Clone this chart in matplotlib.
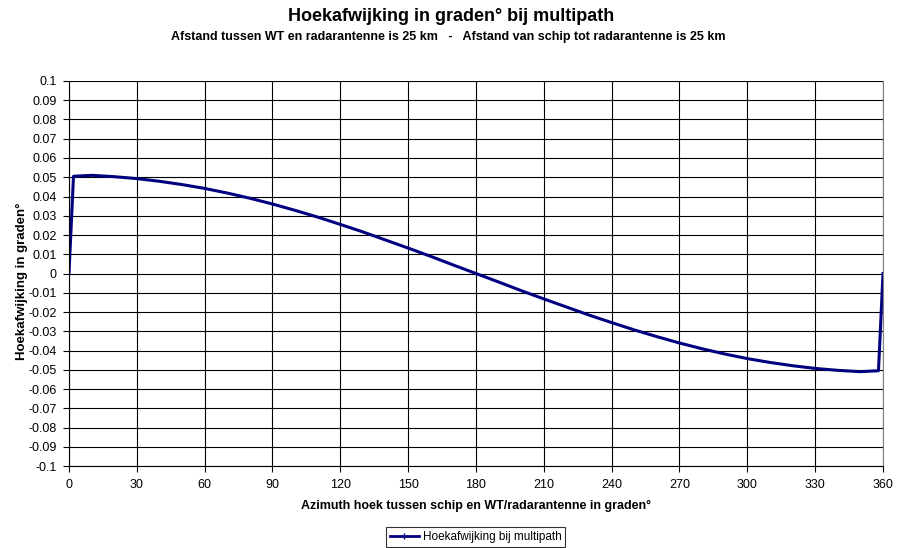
import matplotlib
matplotlib.use("Agg")
import matplotlib.pyplot as plt
from matplotlib.lines import Line2D

plt.rcParams['font.family'] = ['Liberation Sans', 'DejaVu Sans']

# azimuth (degrees) and angular deviation (degrees)
azimuth = [0, 2, 10, 20, 30, 40, 50, 60, 70, 80, 90, 100, 110, 120, 130, 140, 150, 160, 170, 180,
           190, 200, 210, 220, 230, 240, 250, 260, 270, 280, 290, 300, 310, 320, 330, 340, 350, 358, 360]
afwijking = [0, 0.0505, 0.0510, 0.0503, 0.0493, 0.0479, 0.0462, 0.0442, 0.0418, 0.0391, 0.0361,
             0.0328, 0.0293, 0.0255, 0.0216, 0.0174, 0.0132, 0.0089, 0.0044, 0.0,
             -0.0044, -0.0089, -0.0132, -0.0174, -0.0216, -0.0255, -0.0293, -0.0328, -0.0361,
             -0.0391, -0.0418, -0.0442, -0.0462, -0.0479, -0.0493, -0.0503, -0.0510, -0.0505, 0]

x_ticks = list(range(0, 361, 30))
y_ticks = [round(-0.1 + 0.01 * i, 2) for i in range(21)]
y_labels = ['0' if v == 0 else ('%g' % v) for v in y_ticks]

fig = plt.figure(figsize=(8.97, 5.48), dpi=100)
ax = fig.add_axes([0.0769, 0.1496, 0.9075, 0.7026])

navy = '#000080'
ax.plot(azimuth, afwijking, color=navy, lw=2.2)

ax.set_xlim(0, 360)
ax.set_ylim(-0.1, 0.1)
ax.set_xticks(x_ticks)
ax.set_yticks(y_ticks)
ax.set_yticklabels(y_labels)
ax.tick_params(labelsize=9, length=4, width=0.8, direction='out', color='black')
ax.tick_params(axis='x', pad=5)
ax.tick_params(axis='y', pad=5)
ax.grid(True, color='black', lw=0.8)
ax.set_axisbelow(True)
for s in ax.spines.values():
    s.set_color('black')
    s.set_linewidth(0.8)
ax.spines['top'].set_visible(False)
ax.spines['right'].set_color('#808080')

ax.set_xlabel('Azimuth hoek tussen schip en WT/radarantenne in graden°', fontsize=9,
              fontweight='bold', labelpad=7)
ax.set_ylabel('Hoekafwijking in graden°', fontsize=9.5, fontweight='bold')
ax.yaxis.set_label_coords(-0.05, 0.48)

fig.text(0.503, 0.969, 'Hoekafwijking in graden° bij multipath', ha='center', va='center',
         fontsize=13, fontweight='bold')
fig.text(0.5, 0.932, 'Afstand tussen WT en radarantenne is 25 km   -   Afstand van schip tot radarantenne is 25 km',
         ha='center', va='center', fontsize=9, fontweight='bold')

handle = Line2D([], [], color=navy, lw=2, marker='|', markersize=4)
leg = fig.legend([handle], ['Hoekafwijking bij multipath'], loc='center', bbox_to_anchor=(0.53, 0.02),
                 fontsize=8.5, frameon=True, fancybox=False, handlelength=2.5, handletextpad=0.3,
                 borderpad=0.3, edgecolor='black')
leg.get_frame().set_linewidth(0.8)

fig.savefig('out.png', dpi=100)
